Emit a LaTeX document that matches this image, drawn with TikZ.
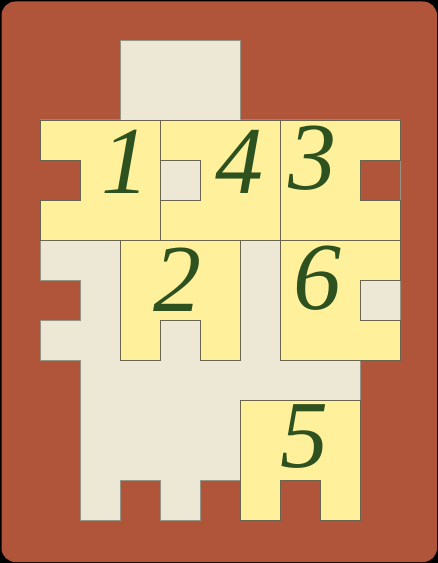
\documentclass[tikz,border=0pt]{standalone}
\usepackage{fontspec}
\newfontfamily\numfont{Liberation Serif}
\definecolor{boardred}{HTML}{B0553A}
\definecolor{beige}{HTML}{EDE8D5}
\definecolor{piece}{HTML}{FFF09C}
\definecolor{digit}{HTML}{2E5120}
\definecolor{edge}{HTML}{6B6550}
\tikzset{
  boardbg/.style={fill=beige, draw=edge!70, line width=0.5pt},
  piecebox/.style={fill=piece, draw=edge, line width=0.6pt, line join=miter},
  numlabel/.style={text=digit, font=\numfont\fontsize{72}{72}\selectfont\itshape, inner sep=0pt, anchor=center}
}
\begin{document}
\begin{tikzpicture}[x=0.75pt, y=-0.75pt]
\useasboundingbox (0,0) rectangle (438,563);
\fill[black] (0,0) rectangle (438,563);
\fill[boardred, rounded corners=10.5pt] (1.5,1.5) rectangle (437,562);
% board (beige)
\draw[boardbg] (120,40) rectangle (240,120);
\draw[boardbg] (40,120) -- (400,120) -- (400,360) -- (360,360) -- (360,520) -- (320,520) -- (320,480) -- (280,480) -- (280,520) -- (240,520) -- (240,480) -- (200,480) -- (200,520) -- (160,520) -- (160,480) -- (120,480) -- (120,520) -- (80,520) -- (80,360) -- (40,360) -- (40,320) -- (80,320) -- (80,280) -- (40,280) -- cycle;
% pieces
\draw[piecebox] (40,120) -- (160,120) -- (160,240) -- (40,240) -- (40,200) -- (80,200) -- (80,160) -- (40,160) -- cycle;
\draw[piecebox] (160,120) -- (280,120) -- (280,240) -- (160,240) -- (160,200) -- (200,200) -- (200,160) -- (160,160) -- cycle;
\draw[piecebox] (280,120) -- (400,120) -- (400,160) -- (360,160) -- (360,200) -- (400,200) -- (400,240) -- (280,240) -- cycle;
\draw[piecebox] (120,240) -- (240,240) -- (240,360) -- (200,360) -- (200,320) -- (160,320) -- (160,360) -- (120,360) -- cycle;
\draw[piecebox] (280,240) -- (400,240) -- (400,280) -- (360,280) -- (360,320) -- (400,320) -- (400,360) -- (280,360) -- cycle;
\draw[piecebox] (240,400) -- (360,400) -- (360,520) -- (320,520) -- (320,480) -- (280,480) -- (280,520) -- (240,520) -- cycle;
% red notches over the board edge
\fill[boardred] (40,160) rectangle (80,200);
\fill[boardred] (360,160) rectangle (400,200);
\draw[edge, line width=0.6pt] (40,160) -- (80,160) -- (80,200) -- (40,200);
\draw[edge, line width=0.6pt] (400,160) -- (360,160) -- (360,200) -- (400,200);
% numbers
\node[numlabel] (n1) at (125,162) {1};
\node[numlabel] (n4) at (239,162) {4};
\node[numlabel] (n3) at (312,158) {3};
\node[numlabel] (n2) at (177,280) {2};
\node[numlabel] (n6) at (317,278) {6};
\node[numlabel] (n5) at (304,437) {5};
\end{tikzpicture}
\end{document}
